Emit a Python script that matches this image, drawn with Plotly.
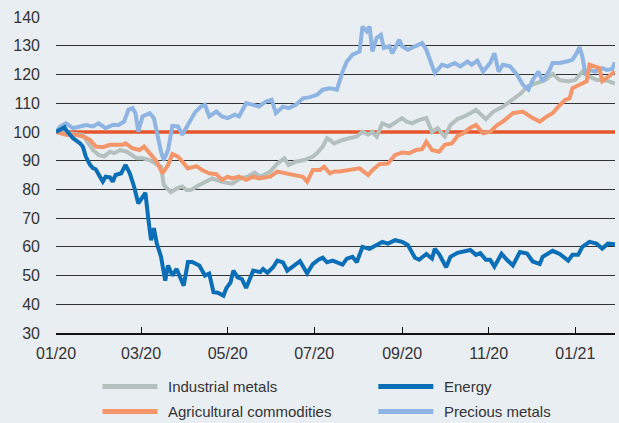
import plotly.graph_objects as go

# ---------------- data ----------------
energy_dates = ["2020-01-01","2020-01-07","2020-01-08","2020-01-13","2020-01-18","2020-01-20","2020-01-22","2020-01-25","2020-01-27","2020-01-29",
    "2020-02-01","2020-02-03","2020-02-05","2020-02-08","2020-02-10","2020-02-12","2020-02-16","2020-02-19","2020-02-22","2020-02-25","2020-02-28",
    "2020-03-02","2020-03-04","2020-03-06","2020-03-08","2020-03-10","2020-03-12","2020-03-15","2020-03-18","2020-03-20","2020-03-23","2020-03-26","2020-03-31",
    "2020-04-03","2020-04-06","2020-04-11","2020-04-15","2020-04-18","2020-04-21","2020-04-24","2020-04-28","2020-04-30",
    "2020-05-03","2020-05-05","2020-05-08","2020-05-11","2020-05-14","2020-05-19","2020-05-24","2020-05-26","2020-05-29",
    "2020-06-02","2020-06-05","2020-06-09","2020-06-12","2020-06-17","2020-06-21","2020-06-26","2020-06-30",
    "2020-07-04","2020-07-07","2020-07-10","2020-07-14","2020-07-21","2020-07-24","2020-07-28","2020-07-31",
    "2020-08-04","2020-08-09","2020-08-14","2020-08-18","2020-08-22","2020-08-27",
    "2020-09-01","2020-09-05","2020-09-10","2020-09-13","2020-09-18","2020-09-22","2020-09-24","2020-09-27",
    "2020-10-02","2020-10-05","2020-10-10","2020-10-14","2020-10-19","2020-10-23","2020-10-26","2020-10-30",
    "2020-11-02","2020-11-05","2020-11-10","2020-11-14","2020-11-18","2020-11-23","2020-11-28",
    "2020-12-02","2020-12-07","2020-12-09","2020-12-16","2020-12-21","2020-12-27","2020-12-30",
    "2021-01-03","2021-01-06","2021-01-11","2021-01-16","2021-01-20","2021-01-24","2021-01-29"]
energy = [100,101.6,100.7,97.8,96,94.8,91.4,88.5,87.4,87,
    84.4,82.7,84.4,84.2,82.7,85,85.6,88.5,85.6,81,75.1,
    77.4,78.8,70,62.3,66.5,61.2,56.6,48.2,53.5,50,52.3,46.5,
    54.7,54.7,53.5,50,50.7,44.2,44,43,45.5,
    47.6,51.7,49.4,48.8,45.7,51.7,51.2,52.3,51,
    52.9,55.2,54.6,51.7,53.5,55,50.8,54,
    55.5,56.2,54.6,55.2,53.8,55.9,56.5,54.6,
    60,59.3,60.6,61.7,61.1,62.3,
    61.7,60.6,56.2,55.5,57.5,55.9,59.3,57.5,
    52.9,56.5,57.9,58.3,58.9,57.2,57.8,55.5,
    55.5,53.1,57.6,55.4,53.5,58.2,57.7,
    54.9,54,56.5,58.6,57.5,55.2,57.2,
    57.2,60,61.7,61.1,59.4,61.1,60.9]

industrial_dates = ["2020-01-01","2020-01-10","2020-01-20","2020-01-23","2020-01-27","2020-01-31","2020-02-04","2020-02-08","2020-02-11","2020-02-15","2020-02-20","2020-02-27",
    "2020-03-02","2020-03-07","2020-03-12","2020-03-15","2020-03-17","2020-03-20","2020-03-22","2020-03-26","2020-03-30",
    "2020-04-02","2020-04-05","2020-04-11","2020-04-20","2020-04-27",
    "2020-05-04","2020-05-10","2020-05-15","2020-05-20","2020-05-24","2020-05-31",
    "2020-06-05","2020-06-10","2020-06-13","2020-06-18","2020-06-24","2020-06-30",
    "2020-07-03","2020-07-07","2020-07-10","2020-07-12","2020-07-15","2020-07-21","2020-07-26","2020-07-31",
    "2020-08-04","2020-08-08","2020-08-11","2020-08-14","2020-08-18","2020-08-23","2020-08-28",
    "2020-09-01","2020-09-04","2020-09-08","2020-09-13","2020-09-18","2020-09-22","2020-09-26",
    "2020-10-01","2020-10-05","2020-10-10","2020-10-14","2020-10-19","2020-10-23","2020-10-30",
    "2020-11-04","2020-11-11","2020-11-18","2020-11-24","2020-11-28",
    "2020-12-05","2020-12-11","2020-12-16","2020-12-21","2020-12-27",
    "2021-01-01","2021-01-06","2021-01-11","2021-01-16","2021-01-20","2021-01-25","2021-01-29"]
industrial = [100,99.5,99,96.6,93.7,92,91.4,93.1,92.6,93.7,93.1,90.8,
    90.8,90.2,89,87.9,81.5,79.8,79,80.3,81,
    79.8,79.8,81.5,83.8,82.6,
    82,83.8,84.4,85.8,84.4,86.2,
    89,90.8,88.5,89.6,90.2,91.4,
    92.6,94.9,97.8,97.2,96,97.2,97.8,98.4,
    100.1,99,100,98.4,103,101.9,103.6,
    104.8,103.6,103,104.2,104.8,100,101.3,
    98.4,102.4,104.5,105.2,106.5,107.7,104.4,
    107,108.8,111.5,113.5,115.8,
    117.2,118.1,120.2,118,117.6,
    118.1,121,119.3,118.1,118.1,117.6,116.8]

agri_dates = ["2020-01-01","2020-01-08","2020-01-15","2020-01-20","2020-01-25","2020-01-29","2020-02-03","2020-02-08","2020-02-12","2020-02-17","2020-02-19","2020-02-24","2020-02-29",
    "2020-03-03","2020-03-07","2020-03-12","2020-03-16","2020-03-20","2020-03-23","2020-03-27","2020-03-30",
    "2020-04-03","2020-04-09","2020-04-13","2020-04-18","2020-04-23","2020-04-27",
    "2020-05-01","2020-05-04","2020-05-09","2020-05-14","2020-05-19","2020-05-23","2020-05-31",
    "2020-06-05","2020-06-11","2020-06-18","2020-06-23","2020-06-26","2020-06-30",
    "2020-07-05","2020-07-08","2020-07-12","2020-07-15","2020-07-19","2020-07-26",
    "2020-08-02","2020-08-08","2020-08-11","2020-08-16","2020-08-22","2020-08-27",
    "2020-09-01","2020-09-06","2020-09-11","2020-09-15","2020-09-18","2020-09-22","2020-09-27",
    "2020-10-01","2020-10-06","2020-10-10","2020-10-14","2020-10-19","2020-10-23","2020-10-28",
    "2020-11-02","2020-11-07","2020-11-11","2020-11-18","2020-11-25",
    "2020-12-02","2020-12-07","2020-12-12","2020-12-16","2020-12-20","2020-12-25","2020-12-28","2020-12-30",
    "2021-01-04","2021-01-09","2021-01-11","2021-01-15","2021-01-18","2021-01-20","2021-01-24","2021-01-29"]
agri = [100,99,99,98.4,97.2,94.9,94.7,95.5,95.5,95.5,96,94.3,93.7,
    94.9,92.6,89.7,85.6,88.5,92.3,91.4,89.7,
    87.3,88.1,86.7,85.6,85.3,83.3,
    84.4,83.8,84.4,83.3,84.4,83.8,84.4,
    86.2,85.6,85,84.4,82.7,86.7,
    86.7,87.9,85.6,86.2,86.2,86.7,
    87.3,85,86.7,88.8,89,92,
    92.8,92.6,93.7,94,96.6,93.7,93.1,
    95.5,96,98.6,99.5,101.5,102.4,99.5,
    100.1,102.4,103.6,106.5,107.1,
    104.8,103.6,105.4,106.5,108.8,111.2,111.7,115.2,
    116.4,117.6,123.4,122.8,122.2,117.6,119.3,121]

precious_dates = ["2020-01-01","2020-01-04","2020-01-08","2020-01-13","2020-01-18","2020-01-22","2020-01-27","2020-01-31","2020-02-05","2020-02-10","2020-02-14","2020-02-18","2020-02-21","2020-02-24","2020-02-26","2020-02-28",
    "2020-03-02","2020-03-07","2020-03-10","2020-03-13","2020-03-15","2020-03-17","2020-03-20","2020-03-23","2020-03-27","2020-03-30",
    "2020-04-02","2020-04-05","2020-04-08","2020-04-12","2020-04-15","2020-04-18","2020-04-23","2020-04-27",
    "2020-05-01","2020-05-06","2020-05-09","2020-05-14","2020-05-19","2020-05-23","2020-05-28",
    "2020-06-01","2020-06-04","2020-06-09","2020-06-13","2020-06-18","2020-06-23","2020-06-28",
    "2020-07-03","2020-07-07","2020-07-12","2020-07-17","2020-07-21","2020-07-24","2020-07-28",
    "2020-08-02","2020-08-04","2020-08-07","2020-08-09","2020-08-11","2020-08-14","2020-08-17","2020-08-19","2020-08-23","2020-08-25","2020-08-30",
    "2020-09-01","2020-09-05","2020-09-10","2020-09-15","2020-09-18","2020-09-22","2020-09-24","2020-09-29",
    "2020-10-03","2020-10-08","2020-10-12","2020-10-17","2020-10-20","2020-10-24","2020-10-28",
    "2020-11-02","2020-11-05","2020-11-08","2020-11-11","2020-11-16","2020-11-21","2020-11-25","2020-11-29",
    "2020-12-02","2020-12-06","2020-12-09","2020-12-14","2020-12-16","2020-12-21","2020-12-26","2020-12-30",
    "2021-01-02","2021-01-04","2021-01-06","2021-01-08","2021-01-11","2021-01-15","2021-01-20","2021-01-23","2021-01-27","2021-01-29"]
precious = [100,101.9,103,101.3,101.9,102.4,101.9,103,101.3,102.4,102.4,103.6,107.7,108.3,106.5,100.1,
    105.4,106.5,104.8,97.2,93.1,90.2,93.7,102.1,101.9,99,
    101.3,104.2,106.8,108.8,109.4,105.4,107.1,105.4,
    104.8,106,105.4,110,109.4,108.8,110.6,
    111.2,106.5,108.8,108.3,109.4,111.7,112.1,
    112.9,114.7,115.2,114.7,121,124.5,126.9,
    128,136.7,135,136.7,128,132.7,133.8,129.2,129.8,127.4,132.1,
    129.8,128.6,129.8,130.9,128.6,123.4,120.5,123.4,
    122.8,124,122.8,124.5,123.4,124.8,121,
    124,127.4,121,123.4,122.8,119.9,116.4,114.7,
    118.1,121,117.6,121.6,124,124,124.5,125.1,
    127.4,129.5,126.3,120.5,121.6,121,122.2,121.6,121.9,124.2]

BASE = 100
x_range = ["2020-01-01", "2021-01-29"]
tick_dates = ["2020-01-01","2020-03-01","2020-05-01","2020-07-01","2020-09-01","2020-11-01","2021-01-01"]
tick_labels = ["01/20","03/20","05/20","07/20","09/20","11/20","01/21"]

series = [
    ("Industrial metals", industrial_dates, industrial, "#b4c0be"),
    ("Precious metals", precious_dates, precious, "#8db4e3"),
    ("Agricultural commodities", agri_dates, agri, "#f5956a"),
    ("Energy", energy_dates, energy, "#0a6fb7"),
]
legend_order = ["Industrial metals", "Energy", "Agricultural commodities", "Precious metals"]

BG = "#e9eef3"
FONT = "Liberation Sans"
TXT = "#333333"

fig = go.Figure()
fig.add_trace(go.Scatter(x=x_range, y=[BASE, BASE], mode="lines",
                         line=dict(color="#e4562b", width=3.5), showlegend=False, hoverinfo="skip"))
for name, d, v, c in series:
    fig.add_trace(go.Scatter(x=d, y=v, mode="lines", name=name,
                             line=dict(color=c, width=4, shape="linear"), showlegend=False))

# manual legend (2 columns x 2 rows)
colors = {s[0]: s[3] for s in series}
col_x = [(0.0832, 0.1816, 0.1968), (0.5766, 0.6750, 0.6905)]
row_y = [-0.1693, -0.2484]
for i, name in enumerate(legend_order):
    cx = col_x[i % 2]
    ry = row_y[i // 2]
    fig.add_shape(type="line", xref="paper", yref="paper", x0=cx[0], x1=cx[1], y0=ry, y1=ry,
                  line=dict(color=colors[name], width=5))
    fig.add_annotation(xref="paper", yref="paper", x=cx[2], y=ry, text=name, showarrow=False,
                       xanchor="left", yanchor="middle", font=dict(family=FONT, size=15, color=TXT))

fig.update_layout(
    width=619, height=423,
    margin=dict(l=56, r=4, t=17, b=90),
    paper_bgcolor=BG, plot_bgcolor=BG,
    font=dict(family=FONT, size=16, color=TXT),
    showlegend=False,
    xaxis=dict(type="date", range=x_range, tickvals=tick_dates, ticktext=tick_labels,
               showgrid=False, showline=True, linecolor="#111111", linewidth=1.5,
               ticks="inside", ticklen=6, tickcolor="#111111", tickwidth=1.2,
               ticklabelstandoff=5, zeroline=False),
    yaxis=dict(range=[30, 140], dtick=10, tick0=30, showgrid=True, gridcolor="#333333", gridwidth=1,
               zeroline=False, showline=False, ticks="", ticklabelstandoff=15),
)

fig.write_html("out.html")
